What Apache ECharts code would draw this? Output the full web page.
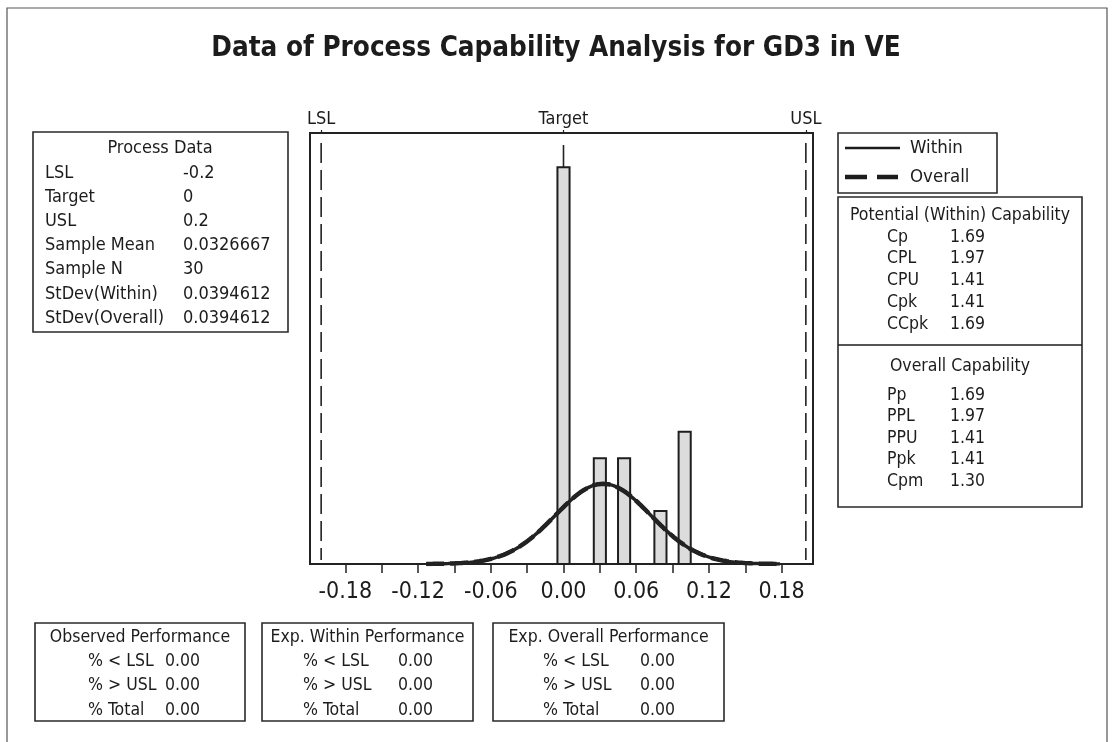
<!DOCTYPE html>
<html>
<head>
<meta charset="utf-8">
<title>Process Capability Analysis</title>
<script src="https://cdn.jsdelivr.net/npm/echarts@6/dist/echarts.min.js"></script>
<style>
  html, body { margin: 0; padding: 0; background: #fff; }
  #chart { width: 1112px; height: 742px; }
</style>
</head>
<body>
<div id="chart"></div>
<script>
// ---- Process data ----
const lsl = -0.2;
const target = 0;
const usl = 0.2;
const sampleMean = 0.0326667;
const sampleN = 30;
const stdevWithin = 0.0394612;
const stdevOverall = 0.0394612;

// ---- Histogram (bin centres and counts) ----
const binWidth = 0.01;
const binCenters = [0, 0.03, 0.05, 0.08, 0.10];
const binCounts = [15, 4, 4, 2, 5];

// ---- Axis ticks ----
const xTickValues = [-0.18, -0.15, -0.12, -0.09, -0.06, -0.03, 0, 0.03, 0.06, 0.09, 0.12, 0.15, 0.18];
const xLabelValues = [-0.18, -0.12, -0.06, 0, 0.06, 0.12, 0.18];
const specNames = ['LSL', 'Target', 'USL'];

// ---- Capability indices ----
const potentialLabels = ['Cp', 'CPL', 'CPU', 'Cpk', 'CCpk'];
const potentialValues = [1.69, 1.97, 1.41, 1.41, 1.69];
const overallLabels = ['Pp', 'PPL', 'PPU', 'Ppk', 'Cpm'];
const overallValues = [1.69, 1.97, 1.41, 1.41, 1.30];

// ---- Performance (percent) ----
const perfLabels = ['% < LSL', '% > USL', '% Total'];
const observedPerf = [0, 0, 0];
const expWithinPerf = [0, 0, 0];
const expOverallPerf = [0, 0, 0];

const FONT_FAMILY = "'DejaVu Sans Condensed', 'Noto Sans', sans-serif";
const INK = '#1c1c1c';

// Fitted normal density, scaled to histogram counts (N * bin width)
function normalCurve(mean, sd) {
  const pts = [];
  const lo = mean - 3.7 * sd, hi = mean + 3.7 * sd;
  const steps = 160;
  const scale = sampleN * binWidth / (sd * Math.sqrt(2 * Math.PI));
  for (let i = 0; i <= steps; i++) {
    const x = lo + (hi - lo) * i / steps;
    const z = (x - mean) / sd;
    pts.push([x, scale * Math.exp(-0.5 * z * z)]);
  }
  return pts;
}

function fmtNum(v) {
  if (v === 0) return '0';
  return String(v);
}

// ---- Text panels ----
const graphic = [];

function box(x, y, w, h) {
  graphic.push({
    type: 'rect', z: 1,
    shape: { x: x, y: y, width: w, height: h },
    style: { fill: '#fff', stroke: '#2a2a2a', lineWidth: 1.6 }
  });
}
function txt(x, y, s, size, align, weight) {
  graphic.push({
    type: 'text', z: 2, x: x, y: y,
    style: {
      text: s,
      fill: INK,
      font: (weight || 'normal') + ' ' + size + 'px ' + FONT_FAMILY,
      textAlign: align || 'left',
      textVerticalAlign: 'middle',
      align: align || 'left',
      verticalAlign: 'middle'
    }
  });
}
function hline(x1, x2, y, width, dash) {
  graphic.push({
    type: 'line', z: 2,
    shape: { x1: x1, y1: y, x2: x2, y2: y },
    style: { stroke: INK, lineWidth: width, lineDash: dash || null }
  });
}

// Outer frame
graphic.push({
  type: 'rect', z: 0,
  shape: { x: 7, y: 8, width: 1100, height: 745 },
  style: { fill: 'none', stroke: '#555', lineWidth: 1.2 }
});

// Process Data
const processLabels = ['LSL', 'Target', 'USL', 'Sample Mean', 'Sample N', 'StDev(Within)', 'StDev(Overall)'];
const processValues = [lsl, target, usl, sampleMean, sampleN, stdevWithin, stdevOverall].map(fmtNum);
box(33, 132, 255, 200);
txt(160, 148, 'Process Data', 18, 'center');
processLabels.forEach((l, i) => {
  txt(45, 173 + i * 24.2, l, 18, 'left');
  txt(183, 173 + i * 24.2, processValues[i], 18, 'left');
});

// Legend
box(838, 133, 159, 60);
hline(845, 900, 148, 2.5);
hline(845, 898, 177, 4.5, [22, 10]);
txt(910, 148, 'Within', 18.5, 'left');
txt(910, 177, 'Overall', 18.5, 'left');

// Capability indices
box(838, 197, 244, 310);
hline(838, 1082, 345, 1.6);
txt(960, 215, 'Potential (Within) Capability', 17.5, 'center');
potentialLabels.forEach((l, i) => {
  txt(887, 237 + i * 21.8, l, 17.5, 'left');
  txt(950, 237 + i * 21.8, potentialValues[i].toFixed(2), 17.5, 'left');
});
txt(960, 366, 'Overall Capability', 17.5, 'center');
overallLabels.forEach((l, i) => {
  txt(887, 395 + i * 21.6, l, 17.5, 'left');
  txt(950, 395 + i * 21.6, overallValues[i].toFixed(2), 17.5, 'left');
});

// Performance panels
const perfPanels = [
  { title: 'Observed Performance', vals: observedPerf, x: 35, w: 210, lx: 88, vx: 165 },
  { title: 'Exp. Within Performance', vals: expWithinPerf, x: 262, w: 211, lx: 303, vx: 398 },
  { title: 'Exp. Overall Performance', vals: expOverallPerf, x: 493, w: 231, lx: 543, vx: 640 }
];
perfPanels.forEach(p => {
  box(p.x, 623, p.w, 98);
  txt(p.x + p.w / 2, 637, p.title, 17.5, 'center');
  perfLabels.forEach((l, i) => {
    txt(p.lx, 661 + i * 24.5, l, 17.5, 'left');
    txt(p.vx, 661 + i * 24.5, p.vals[i].toFixed(2), 17.5, 'left');
  });
});

// ---- Chart ----
const chart = echarts.init(document.getElementById('chart'));

const histData = binCenters.map((c, i) => [c, binCounts[i]]);
const specData = [[lsl, 'dash'], [target, 'solid'], [usl, 'dash']];

chart.setOption({
  backgroundColor: '#fff',
  animation: false,
  title: {
    text: 'Data of Process Capability Analysis for GD3 in VE',
    left: 'center',
    top: 30,
    textStyle: { fontFamily: FONT_FAMILY, fontSize: 27.6, fontWeight: 'bold', color: INK }
  },
  grid: {
    left: 310, top: 133, width: 503, height: 431,
    show: true, borderColor: '#222', borderWidth: 2, backgroundColor: '#fff',
    containLabel: false
  },
  xAxis: [
    {
      type: 'value', position: 'bottom',
      min: -0.2092, max: 0.2059,
      axisLine: { show: false },
      splitLine: { show: false },
      axisTick: { show: true, length: 9, customValues: xTickValues, lineStyle: { color: '#222', width: 1.5 } },
      axisLabel: {
        customValues: xLabelValues, margin: 17,
        formatter: v => v.toFixed(2),
        fontFamily: FONT_FAMILY, fontSize: 23, color: INK
      }
    },
    {
      type: 'value', position: 'top',
      min: -0.2092, max: 0.2059,
      axisLine: { show: false },
      splitLine: { show: false },
      axisTick: { show: true, length: 3, customValues: [lsl, target, usl], lineStyle: { color: '#222', width: 1.2 } },
      axisLabel: {
        customValues: [lsl, target, usl], margin: 5,
        formatter: v => specNames[[lsl, target, usl].indexOf(v)] || '',
        fontFamily: FONT_FAMILY, fontSize: 18, color: INK
      }
    }
  ],
  yAxis: {
    type: 'value', min: 0, max: 16.3, show: false
  },
  graphic: graphic,
  series: [
    {
      // LSL / Target / USL reference lines
      type: 'custom', name: 'spec', z: 1,
      data: specData,
      renderItem: function (params, api) {
        const x = api.coord([api.value(0), 0])[0];
        const cs = params.coordSys;
        const dashed = specData[params.dataIndex][1] === 'dash';
        return {
          type: 'line',
          shape: { x1: x, y1: cs.y + (dashed ? 10 : 12), x2: x, y2: cs.y + cs.height - 4 },
          style: { stroke: '#222', lineWidth: 1.6, lineDash: dashed ? [20, 7] : null }
        };
      }
    },
    {
      // Histogram bars
      type: 'custom', name: 'histogram', z: 2,
      data: histData,
      renderItem: function (params, api) {
        const c = api.value(0), n = api.value(1);
        const p0 = api.coord([c - binWidth / 2, n]);
        const p1 = api.coord([c + binWidth / 2, 0]);
        return {
          type: 'rect',
          shape: { x: p0[0], y: p0[1], width: p1[0] - p0[0], height: p1[1] - p0[1] },
          style: { fill: '#dcdcdc', stroke: '#1e1e1e', lineWidth: 2 }
        };
      }
    },
    {
      name: 'Within', type: 'line', z: 3,
      data: normalCurve(sampleMean, stdevWithin),
      showSymbol: false, smooth: false,
      lineStyle: { color: '#222', width: 3.5 }
    },
    {
      name: 'Overall', type: 'line', z: 4,
      data: normalCurve(sampleMean, stdevOverall),
      showSymbol: false, smooth: false,
      lineStyle: { color: '#222', width: 4.5, type: [18, 6] }
    }
  ]
});
</script>
</body>
</html>
